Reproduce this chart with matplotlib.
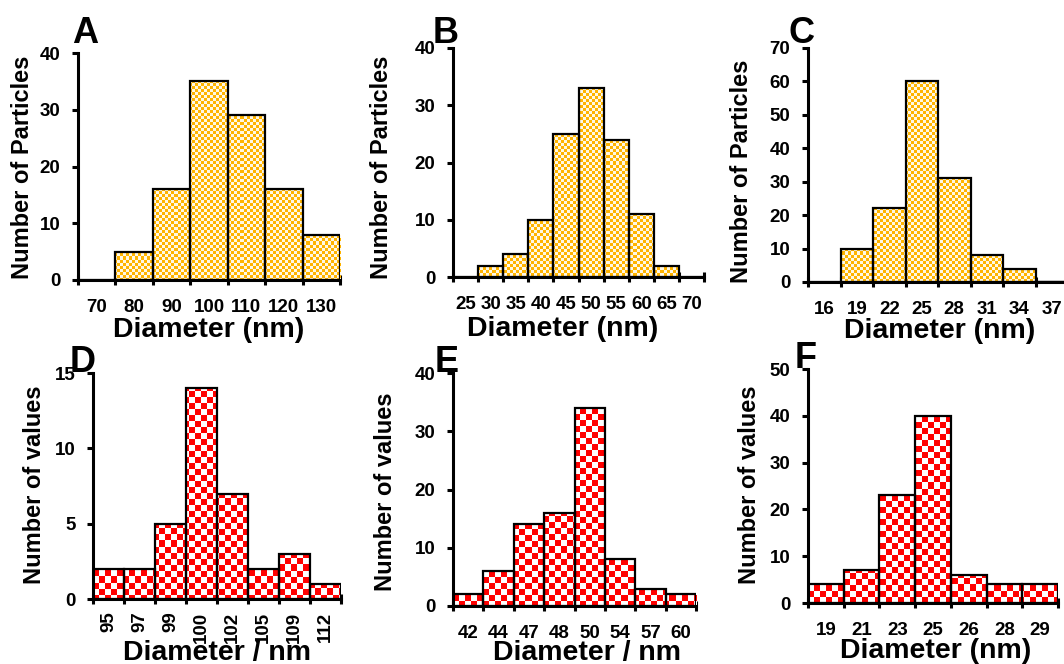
import numpy as np
import matplotlib
matplotlib.use('Agg')
import matplotlib.pyplot as plt
from matplotlib.colors import to_rgb

W, H = 1064, 664
plt.rcParams['font.family'] = ['Liberation Sans', 'DejaVu Sans']
plt.rcParams['font.weight'] = 'bold'

# ---------------- data ----------------
a_labels = ['70', '80', '90', '100', '110', '120', '130']
a_counts = [0, 5, 16, 35, 29, 16, 8]

b_labels = ['25', '30', '35', '40', '45', '50', '55', '60', '65', '70']
b_counts = [0, 2, 4, 10, 25, 33, 24, 11, 2, 0]

c_labels = ['16', '19', '22', '25', '28', '31', '34', '37']
c_counts = [0, 10, 22, 60, 31, 8, 4, 0]

d_labels = ['95', '97', '99', '100', '102', '105', '109', '112']
d_counts = [2, 2, 5, 14, 7, 2, 3, 1]

e_labels = ['42', '44', '47', '48', '50', '54', '57', '60']
e_counts = [2, 6, 14, 16, 34, 8, 3, 2]

f_labels = ['19', '21', '23', '25', '26', '28', '29']
f_counts = [4, 7, 23, 40, 6, 4, 4]

ylims = {'A': (40, 10), 'B': (40, 10), 'C': (70, 10), 'D': (15, 5), 'E': (40, 10), 'F': (50, 10)}

# ---------------- layout (pixels) ----------------
panels = [
    dict(key='A', labels=a_labels, counts=a_counts, box=(78, 340, 53, 280),
         ylab='Number of Particles', ylab_xy=(23, 167), xlab='Diameter (nm)', xlab_xy=(209, 337),
         letter_xy=(72, 43), style='top', rot=0, pad=13.7),
    dict(key='B', labels=b_labels, counts=b_counts, box=(453, 704, 48, 277),
         ylab='Number of Particles', ylab_xy=(382, 167), xlab='Diameter (nm)', xlab_xy=(563, 336),
         letter_xy=(433, 43), style='top', rot=0, pad=13.7),
    dict(key='C', labels=c_labels, counts=c_counts, box=(808, 1068, 48, 282),
         ylab='Number of Particles', ylab_xy=(742, 171), xlab='Diameter (nm)', xlab_xy=(940, 338),
         letter_xy=(788, 43), style='top', rot=0, pad=13.7),
    dict(key='D', labels=d_labels, counts=d_counts, box=(93, 341, 373, 599),
         ylab='Number of values', ylab_xy=(35, 485), xlab='Diameter / nm', xlab_xy=(217, 660),
         letter_xy=(70, 372), style='bottom', rot=90, pad=9),
    dict(key='E', labels=e_labels, counts=e_counts, box=(453, 696, 373, 606),
         ylab='Number of values', ylab_xy=(385, 492), xlab='Diameter / nm', xlab_xy=(587, 660),
         letter_xy=(435, 372), style='bottom', rot=0, pad=13.7),
    dict(key='F', labels=f_labels, counts=f_counts, box=(808, 1058, 369, 603),
         ylab='Number of values', ylab_xy=(750, 485), xlab='Diameter (nm)', xlab_xy=(936, 658),
         letter_xy=(795, 368), style='bottom', rot=0, pad=13.7),
]

styles = {
    'top': dict(cell=3, c1='#FFB400', c2='#FFF8E4'),
    'bottom': dict(cell=6, c1='#FF0000', c2='#FFFFFF'),
}

fig = plt.figure(figsize=(W / 100, H / 100), dpi=100)
fig.patch.set_facecolor('white')


def checker_fill(ax, bars, cell, c1, c2):
    bb = ax.bbox
    w = int(round(bb.width))
    h = int(round(bb.height))
    yy, xx = np.mgrid[0:h, 0:w]
    mask = ((xx // cell + yy // cell) % 2).astype(bool)
    img = np.where(mask[..., None], np.array(to_rgb(c1)), np.array(to_rgb(c2)))
    xl, yl = ax.get_xlim(), ax.get_ylim()
    for b in bars:
        if b.get_height() <= 0:
            continue
        im = ax.imshow(img, extent=(xl[0], xl[1], yl[0], yl[1]), origin='upper',
                       aspect='auto', interpolation='nearest', zorder=2)
        im.set_clip_path(b)
    ax.set_xlim(xl)
    ax.set_ylim(yl)


for p in panels:
    x0, x1, yt, yb = p['box']
    ax = fig.add_axes([x0 / W, 1 - yb / H, (x1 - x0) / W, (yb - yt) / H])
    n = len(p['labels'])
    x = np.arange(n)
    bars = ax.bar(x, p['counts'], width=1.0, facecolor='none', edgecolor='black',
                  linewidth=1.6, zorder=3)
    ymax, ystep = ylims[p['key']]
    ax.set_xlim(-0.5, n - 0.5)
    ax.set_ylim(0, ymax)
    st = styles[p['style']]
    checker_fill(ax, bars, st['cell'], st['c1'], st['c2'])

    ax.set_xticks(x)
    ax.set_xticklabels(p['labels'], rotation=p['rot'])
    ax.set_xticks(np.arange(n + 1) - 0.5, minor=True)
    ax.tick_params(axis='x', which='major', length=0, pad=p['pad'], labelsize=13.5)
    ax.tick_params(axis='x', which='minor', direction='inout', length=7, width=2.2)
    ax.set_yticks(np.arange(0, ymax + 0.1, ystep))
    ax.tick_params(axis='y', which='major', direction='out', length=4, width=2.2,
                   pad=8.6, labelsize=13.5)
    for s in ['top', 'right']:
        ax.spines[s].set_visible(False)
    for s in ['left', 'bottom']:
        ax.spines[s].set_linewidth(2.2)
        ax.spines[s].set_zorder(5)
    ax.set_facecolor('none')

    fig.text(p['ylab_xy'][0] / W, 1 - p['ylab_xy'][1] / H, p['ylab'], rotation=90,
             ha='center', va='center', fontsize=17, fontweight='bold')
    fig.text(p['xlab_xy'][0] / W, 1 - p['xlab_xy'][1] / H, p['xlab'],
             ha='center', va='baseline', fontsize=20.5, fontweight='bold')
    fig.text(p['letter_xy'][0] / W, 1 - p['letter_xy'][1] / H, p['key'],
             ha='left', va='baseline', fontsize=26, fontweight='bold')

fig.savefig('out.png', dpi=100, facecolor='white')
